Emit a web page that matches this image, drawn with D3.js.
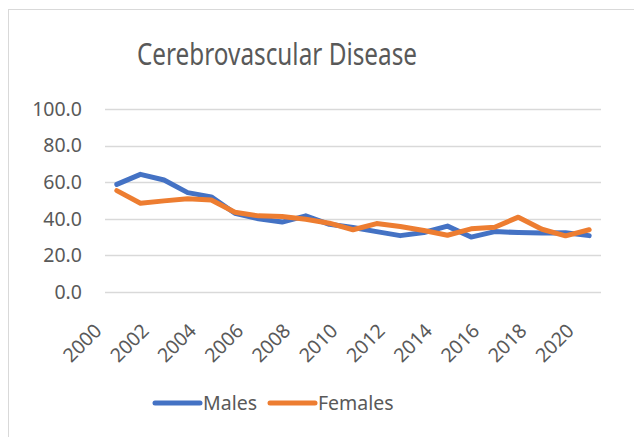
<!DOCTYPE html>
<html>
<head>
<meta charset="utf-8">
<script src="https://cdn.jsdelivr.net/npm/d3@7"></script>
<style>
  body { margin: 0; background: #fff; }
  svg { display: block; font-family: "Noto Sans", "Open Sans", sans-serif; }
</style>
</head>
<body>
<div class="chart"></div>
<script>
// values
var years = ["2000","2001","2002","2003","2004","2005","2006","2007","2008","2009","2010",
             "2011","2012","2013","2014","2015","2016","2017","2018","2019","2020"];
var males   = [58.8, 64.3, 61.2, 54.3, 52.0, 43.0, 40.0, 38.2, 41.6, 37.0, 35.2,
               33.0, 30.8, 32.5, 36.0, 30.0, 33.0, 32.5, 32.2, 32.4, 30.8];
var females = [55.4, 48.5, 49.8, 50.9, 50.3, 43.6, 41.6, 41.2, 39.8, 37.6, 34.0,
               37.4, 35.8, 33.6, 31.0, 34.5, 35.4, 40.9, 34.3, 30.7, 34.0];
var yTicks = [0, 20, 40, 60, 80, 100];
var xLabels = ["2000","2002","2004","2006","2008","2010","2012","2014","2016","2018","2020"];
var seriesNames = ["Males", "Females"];
var colors = ["#4472C4", "#ED7D31"];

var W = 634, H = 437;
// plot area edges (don't call it "top", that's window.top)
var pLeft = 105, pRight = 601, pTop = 109, pBottom = 292;

var svg = d3.select(".chart").append("svg")
    .attr("width", W)
    .attr("height", H);

// chart frame
svg.append("rect")
    .attr("x", 8.5).attr("y", 9.5)
    .attr("width", 700).attr("height", 500)
    .attr("fill", "#fff")
    .attr("stroke", "#d9d9d9");

// title
svg.append("text")
    .attr("x", 277).attr("y", 65)
    .attr("text-anchor", "middle")
    .attr("font-size", 31)
    .attr("textLength", 280)
    .attr("lengthAdjust", "spacingAndGlyphs")
    .attr("fill", "#595959")
    .text("Cerebrovascular Disease");

var x = d3.scaleBand()
    .domain(years)
    .range([pLeft, pRight]);

var y = d3.scaleLinear()
    .domain([0, 100])
    .range([pBottom, pTop]);

// gridlines
svg.append("g")
    .selectAll("line")
    .data(yTicks)
    .enter()
    .append("line")
    .attr("x1", pLeft).attr("x2", pRight)
    .attr("y1", function(d){ return Math.round(y(d)) + 0.5; })
    .attr("y2", function(d){ return Math.round(y(d)) + 0.5; })
    .attr("stroke", "#d9d9d9")
    .attr("stroke-width", 1.5);

// y axis labels
var yAxis = svg.append("g")
    .attr("transform", "translate(" + pLeft + ",0)")
    .call(d3.axisLeft(y).tickValues(yTicks).tickFormat(d3.format(".1f")).tickSize(0).tickPadding(23));
yAxis.select(".domain").remove();
yAxis.selectAll("text")
    .attr("font-size", 19.5)
    .attr("font-family", "Noto Sans")
    .attr("fill", "#595959");

// x axis labels
var xAxis = svg.append("g")
    .attr("transform", "translate(0," + pBottom + ")")
    .call(d3.axisBottom(x).tickValues(xLabels).tickSize(0));
xAxis.select(".domain").remove();
xAxis.selectAll("text")
    .attr("font-size", 19.5)
    .attr("font-family", "Noto Sans")
    .attr("fill", "#595959")
    .attr("text-anchor", "end")
    .attr("y", 0)
    .attr("dy", 0)
    .attr("transform", "translate(-14,40) rotate(-45)");

var line = d3.line()
    .x(function(d, i){ return x(years[i]) + x.bandwidth() / 2; })
    .y(function(d){ return y(d); });

[males, females].forEach(function(s, k){
    svg.append("path")
        .datum(s)
        .attr("d", line)
        .attr("fill", "none")
        .attr("stroke", colors[k])
        .attr("stroke-width", 5)
        .attr("stroke-linejoin", "round")
        .attr("stroke-linecap", "round");
});

// legend
var legX = [155, 270];
var leg = svg.append("g");
seriesNames.forEach(function(name, k){
    leg.append("line")
        .attr("x1", legX[k]).attr("x2", legX[k] + 45)
        .attr("y1", 403).attr("y2", 403)
        .attr("stroke", colors[k])
        .attr("stroke-width", 5)
        .attr("stroke-linecap", "round");
    leg.append("text")
        .attr("x", legX[k] + 48).attr("y", 410)
        .attr("font-size", 19.5)
        .attr("fill", "#595959")
        .text(name);
});
</script>
</body>
</html>
